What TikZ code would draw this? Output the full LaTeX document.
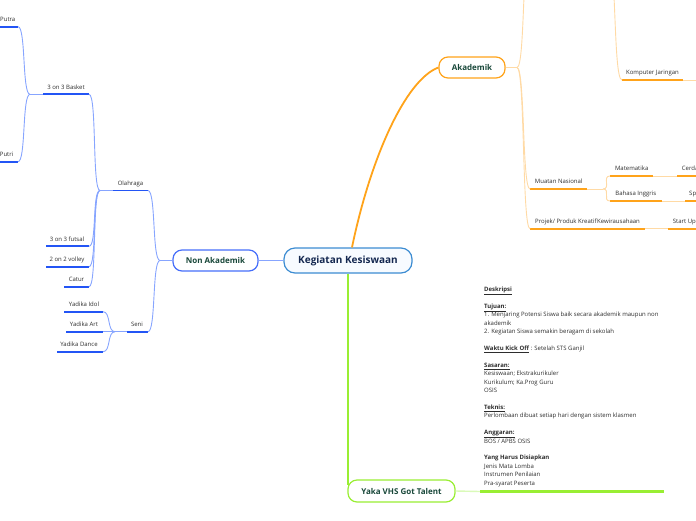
\documentclass[tikz,border=0pt]{standalone}
\usepackage{fontspec}
\setmainfont{Open Sans}
\definecolor{blueB}{RGB}{35,85,245}
\definecolor{blueL}{RGB}{135,165,255}
\definecolor{orB}{RGB}{255,163,26}
\definecolor{orL}{RGB}{255,218,165}
\definecolor{grB}{RGB}{153,238,51}
\definecolor{grL}{RGB}{218,250,185}
\definecolor{centB}{RGB}{60,140,210}
\definecolor{centF}{RGB}{247,251,255}
\definecolor{centT}{RGB}{20,40,80}
\definecolor{nonB}{RGB}{70,110,250}
\definecolor{boxT}{RGB}{25,72,58}
\definecolor{labgray}{RGB}{45,45,45}
\newcommand\mmcurve[3]{\draw[#1] (#2) .. controls +(8,0) and +(-8,0) .. (#3);}
\begin{document}
\begin{tikzpicture}[x=1pt,y=-1pt,
  lab/.style={font=\fontsize{6}{7}\selectfont, text=labgray, inner sep=0pt, anchor=base},
  labw/.style={lab, anchor=base west},
  mainbox/.style={line width=1.2pt, rounded corners=9pt, inner sep=0pt, fill=white,
     font=\fontsize{8}{10}\selectfont\bfseries, text=boxT},
  bu/.style={draw=blueB, line width=1.7pt},
  bl/.style={draw=blueL, line width=0.9pt},
  ou/.style={draw=orB, line width=1.7pt},
  ol/.style={draw=orL, line width=0.9pt},
  gu/.style={draw=grB, line width=2.4pt},
  gl/.style={draw=grL, line width=1.4pt},
  desc/.style={font=\fontsize{6}{8.43}\selectfont, text=labgray, align=left, inner sep=0pt, anchor=north west}]
\useasboundingbox (0,0) rectangle (696,520);
\clip (0,0) rectangle (696,520);

% ---------- main nodes ----------
\node[draw=centB, fill=centF, line width=1.2pt, rounded corners=11pt, inner sep=0pt,
      minimum width=128pt, minimum height=25pt,
      font=\fontsize{10}{12}\selectfont\bfseries, text=centT] (central) at (348,260.5) {Kegiatan Kesiswaan};
\node[mainbox, draw=nonB, minimum width=85pt, minimum height=21pt] (nonak) at (215.5,260.5) {Non Akademik};
\node[mainbox, draw=orB, minimum width=66pt, minimum height=21pt] (akad) at (472,67.5) {Akademik};
\node[mainbox, draw=grB, minimum width=107pt, minimum height=22pt] (yaka) at (401.5,491) {Yaka VHS Got Talent};

% ---------- main branches ----------
\draw[blueL, line width=1.8pt] (central.west) -- (nonak.east);
\draw[orB, line width=1.8pt] (central.north -| 352,0) .. controls (370,160) and (405,80) .. (akad.west);
\coordinate (gdown) at (348,485);
\draw[grB, line width=1.6pt] (central.south) -- (gdown);

% ---------- Non Akademik ----------
\coordinate (jN) at (160,260.5);
\draw[bl] (nonak.west) -- (jN);

\node[lab] (olah) at (130.5,185.2) {Olahraga};
\coordinate (olahL) at (113,190.5); \coordinate (olahR) at (148,190.5);
\draw[bu] (olahL) -- (olahR);
\node[lab] (seni) at (137,326.4) {Seni};
\coordinate (seniL) at (127,331.7); \coordinate (seniR) at (148,331.7);
\draw[bu] (seniL) -- (seniR);
\mmcurve{bl}{olahR}{jN}
\mmcurve{bl}{seniR}{jN}

\coordinate (jO) at (100,190.5);
\draw[bl] (jO) -- (olahL);

\node[lab] (basket) at (66,89) {3 on 3 Basket};
\coordinate (basketL) at (43,94.3); \coordinate (basketR) at (89,94.3);
\draw[bu] (basketL) -- (basketR);
\mmcurve{bl}{basketR}{jO}

\coordinate (jB) at (30,94.3);
\draw[bl] (jB) -- (basketL);
\node[lab, anchor=base east] (putra) at (15.5,21.4) {Putra};
\coordinate (putraL) at (-5,26.7); \coordinate (putraR) at (18,26.7);
\draw[bu] (putraL) -- (putraR);
\mmcurve{bl}{putraR}{jB}
\node[lab, anchor=base east] (putri) at (13.5,156.4) {Putri};
\coordinate (putriL) at (-5,161.7); \coordinate (putriR) at (18,161.7);
\draw[bu] (putriL) -- (putriR);
\mmcurve{bl}{putriR}{jB}

\node[lab] (futsal) at (67,241) {3 on 3 futsal};
\coordinate (futsalL) at (46,246.3); \coordinate (futsalR) at (89,246.3);
\draw[bu] (futsalL) -- (futsalR);
\mmcurve{bl}{futsalR}{jO}
\node[lab] (volley) at (67,261.4) {2 on 2 volley};
\coordinate (volleyL) at (46,266.7); \coordinate (volleyR) at (89,266.7);
\draw[bu] (volleyL) -- (volleyR);
\mmcurve{bl}{volleyR}{jO}
\node[lab] (catur) at (76.5,281.4) {Catur};
\coordinate (caturL) at (64,286.7); \coordinate (caturR) at (89,286.7);
\draw[bu] (caturL) -- (caturR);
\mmcurve{bl}{caturR}{jO}

\coordinate (jS) at (115,331.7);
\draw[bl] (jS) -- (seniL);
\node[lab] (idol) at (84,306.4) {Yadika Idol};
\coordinate (idolL) at (64,311.7); \coordinate (idolR) at (103,311.7);
\draw[bu] (idolL) -- (idolR);
\mmcurve{bl}{idolR}{jS}
\node[lab] (art) at (84,326.4) {Yadika Art};
\coordinate (artL) at (66,331.7); \coordinate (artR) at (103,331.7);
\draw[bu] (artL) -- (artR);
\draw[bl] (artR) -- (jS);
\node[lab] (dance) at (79,346.4) {Yadika Dance};
\coordinate (danceL) at (57,351.7); \coordinate (danceR) at (103,351.7);
\draw[bu] (danceL) -- (danceR);
\mmcurve{bl}{danceR}{jS}

% ---------- Akademik ----------
\coordinate (jA) at (517,67.5);
\draw[ol] (akad.east) -- (jA);
\coordinate (topA) at (530,-50);
\mmcurve{ol}{jA}{topA}

\coordinate (topK) at (603,-70);
\node[lab] (komp) at (652.5,74.8) {Komputer Jaringan};
\coordinate (kompL) at (622,80); \coordinate (kompR) at (683,80);
\coordinate (kompE) at (700,80);
\draw[ou] (kompL) -- (kompR);
\draw[ol] (kompR) -- (kompE);
\draw[ol] (topK) .. controls (618,-70) and (612,80) .. (kompL);

\node[lab] (muat) at (558.7,183.7) {Muatan Nasional};
\coordinate (muatL) at (530,189); \coordinate (muatR) at (587,189);
\draw[ou] (muatL) -- (muatR);
\mmcurve{ol}{jA}{muatL}
\coordinate (jM) at (603,189);
\draw[ol] (muatR) -- (jM);

\node[labw] (proj) at (535,223.4) {Projek/ Produk Kreatif};
\coordinate (projL) at (530,228.7); \coordinate (projR) at (596,228.7);
\draw[ou] (projL) -- (projR);
\mmcurve{ol}{jA}{projL}
\node[labw] (kewi) at (597,223.4) {Kewirausahaan};
\coordinate (kewiR) at (645,228.7);
\draw[ou] (projR) -- (kewiR);
\node[labw] (start) at (672.7,223.4) {Start Up};
\coordinate (startL) at (668,228.7); \coordinate (startR) at (710,228.7);
\draw[ol] (kewiR) -- (startL);
\draw[ou] (startL) -- (startR);

\node[lab] (mat) at (631.7,170.7) {Matematika};
\coordinate (matL) at (610,176); \coordinate (matR) at (653,176);
\draw[ou] (matL) -- (matR);
\mmcurve{ol}{jM}{matL}
\node[labw] (cerda) at (681.7,170.7) {Cerda};
\coordinate (cerdaL) at (677,176); \coordinate (cerdaR) at (710,176);
\draw[ol] (matR) -- (cerdaL);
\draw[ou] (cerdaL) -- (cerdaR);

\node[lab] (bhs) at (635.8,195.7) {Bahasa Inggris};
\coordinate (bhsL) at (610,201); \coordinate (bhsR) at (662,201);
\draw[ou] (bhsL) -- (bhsR);
\mmcurve{ol}{jM}{bhsL}
\node[labw] (sp) at (689,195.7) {Sp};
\coordinate (spL) at (685,201); \coordinate (spR) at (710,201);
\draw[ol] (bhsR) -- (spL);
\draw[ou] (spL) -- (spR);

% ---------- Yaka VHS Got Talent ----------
\node[desc] (desc) at (484,286.6) {%
\underline{\textbf{Deskripsi}}\\[8.43pt]
\underline{\textbf{Tujuan:}}\\
1. Menjaring Potensi Siswa baik secara akademik maupun non\\
akademik\\
2. Kegiatan Siswa semakin beragam di sekolah\\[8.43pt]
\underline{\textbf{Waktu Kick Off}} : Setelah STS Ganjil\\[8.43pt]
\underline{\textbf{Sasaran:}}\\
Kesiswaan; Ekstrakurikuler\\
Kurikulum; Ka.Prog Guru\\
OSIS\\[8.43pt]
\underline{\textbf{Teknis:}}\\
Perlombaan dibuat setiap hari dengan sistem klasmen\\[8.43pt]
\underline{\textbf{Anggaran:}}\\
BOS / APBS OSIS\\[8.43pt]
\textbf{Yang Harus Disiapkan}\\
Jenis Mata Lomba\\
Instrumen Penilaian\\
Pra-syarat Peserta};
\coordinate (jY) at (480,491.5); \coordinate (descR) at (664,491.5);
\draw[gl] (yaka.east) -- (jY);
\draw[gu] (jY) -- (descR);
\end{tikzpicture}
\end{document}
